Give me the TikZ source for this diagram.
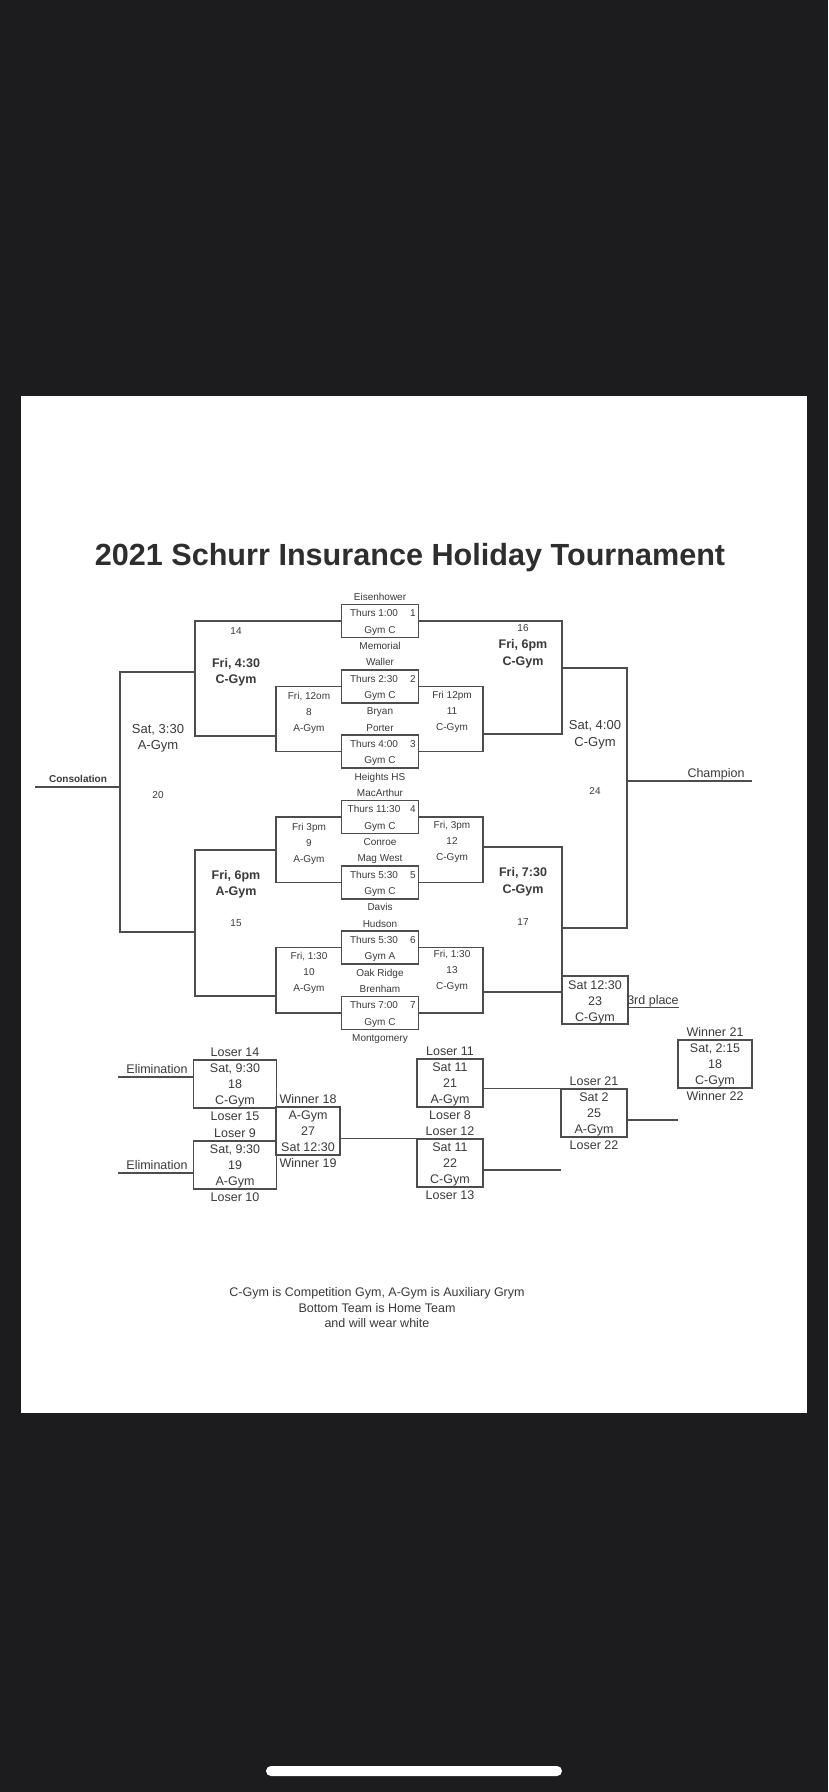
\documentclass[tikz,border=0pt]{standalone}
\usepackage{fontspec}
\setmainfont{Liberation Sans}
\usetikzlibrary{positioning, calc}

\definecolor{phonebg}{HTML}{1C1C1E}
\definecolor{ink}{HTML}{3A3A3A}
\definecolor{rule}{HTML}{4D4D4D}

\tikzset{
  sm/.style={font=\fontsize{10}{12}\selectfont, text=ink, inner sep=0pt, text height=7pt, text depth=0pt},
  md/.style={font=\fontsize{12.5}{14}\selectfont, text=ink, inner sep=0pt, text height=8.8pt, text depth=0pt},
  bd/.style={md, font=\fontsize{12.5}{14}\selectfont\bfseries},
  gbox/.style={draw=rule, line width=1.4pt, minimum width=77pt, minimum height=33pt, inner sep=0pt},
  wire/.style={draw=rule, line width=1.3pt},
}

\begin{document}
\begin{tikzpicture}[x=1pt, y=-1pt]
    \useasboundingbox (0,0) rectangle (828,1792);
    \fill[phonebg] (0,0) rectangle (828,1792);
    \fill[white] (20.6,396) rectangle (807,1413);
    \fill[white, rounded corners=5pt] (266,1766) rectangle (562,1776);

    \node[font=\fontsize{30.6}{34}\selectfont\bfseries, text=black!82, anchor=base] (title) at (410,565) {2021 Schurr Insurance Holiday Tournament};

    % first round, thursday games
    \foreach \n/\ta/\tm/\gy/\tb in {1/Eisenhower/Thurs 1:00/Gym C/Memorial, 2/Waller/Thurs 2:30/Gym C/Bryan,
        3/Porter/Thurs 4:00/Gym C/Heights HS, 4/MacArthur/Thurs 11:30/Gym C/Conroe, 5/Mag West/Thurs 5:30/Gym C/Davis,
        6/Hudson/Thurs 5:30/Gym A/Oak Ridge, 7/Brenham/Thurs 7:00/Gym C/Montgomery} {
        \pgfmathsetmacro\yy{597+65.33*(\n-1)}
        \node[sm] (ta\n) at (380,\yy) {\ta};
        \node[gbox] (b\n) at (380,\yy+24) {};
        \node[sm] (tm\n) at (374,\yy+16.33) {\tm};
        \node[sm, anchor=east] (nr\n) at (416,\yy+16.33) {\n};
        \node[sm] (gy\n) at (380,\yy+32.67) {\gy};
        \node[sm] (tb\n) at (380,\yy+49) {\tb};
    }

    \coordinate (r8) at (276,736);  \coordinate (r9) at (276,850);  \coordinate (r10) at (276,996);
    \coordinate (r14) at (195,672); \coordinate (r15) at (195,932); \coordinate (r20) at (120,787);
    \coordinate (r11) at (483,734); \coordinate (r12) at (483,847); \coordinate (r13) at (483,992);
    \coordinate (r16) at (562,668); \coordinate (r17) at (562,928); \coordinate (r24) at (627,781);
    \coordinate (cons) at (35,787); \coordinate (champ) at (752,781);

    \draw[wire] (b2.west) -| (r8) |- (b3.west);
    \draw[wire] (b4.west) -| (r9) |- (b5.west);
    \draw[wire] (b6.west) -| (r10) |- (b7.west);
    \draw[wire] (b1.west) -| (r14) |- (r8);
    \draw[wire] (r9) -| (r15) |- (r10);
    \draw[wire] (r14) -| (r20) |- (r15);
    \draw[wire] (r20) -- (cons);

    \draw[wire] (b2.east) -| (r11) |- (b3.east);
    \draw[wire] (b4.east) -| (r12) |- (b5.east);
    \draw[wire] (b6.east) -| (r13) |- (b7.east);
    \draw[wire] (b1.east) -| (r16) |- (r11);
    \draw[wire] (r12) -| (r17) |- (r13);
    \draw[wire] (r16) -| (r24) |- (r17);
    \draw[wire] (r24) -- (champ);

    % friday games
    \foreach \nm/\x/\y/\la/\lb/\lc in {m8/309/696/{Fri, 12om}/8/A-Gym, m9/309/827/Fri 3pm/9/A-Gym,
        m10/309/956/{Fri, 1:30}/10/A-Gym, m11/452/695/Fri 12pm/11/C-Gym,
        m12/452/825/{Fri, 3pm}/12/C-Gym, m13/452/954/{Fri, 1:30}/13/C-Gym} {
        \node[sm] (\nm-a) at (\x,\y) {\la};
        \node[sm] (\nm-b) at (\x,\y+16) {\lb};
        \node[sm] (\nm-c) at (\x,\y+32) {\lc};
    }

    \node[sm] (n14) at (236,631) {14};
    \node[bd] (m14-a) at (236,663) {Fri, 4:30};
    \node[bd] (m14-b) at (236,679) {C-Gym};
    \node[bd] (m15-a) at (236,875) {Fri, 6pm};
    \node[bd] (m15-b) at (236,891) {A-Gym};
    \node[sm] (n15) at (236,923) {15};
    \node[sm] (n16) at (523,628) {16};
    \node[bd] (m16-a) at (523,644) {Fri, 6pm};
    \node[bd] (m16-b) at (523,661) {C-Gym};
    \node[bd] (m17-a) at (523,872) {Fri, 7:30};
    \node[bd] (m17-b) at (523,889) {C-Gym};
    \node[sm] (n17) at (523,922) {17};

    \node[md, font=\fontsize{13}{15}\selectfont] (m20-a) at (158,729) {Sat, 3:30};
    \node[md, font=\fontsize{13}{15}\selectfont] (m20-b) at (158,745) {A-Gym};
    \node[sm] (n20) at (158,795) {20};
    \node[md, font=\fontsize{13}{15}\selectfont] (m24-a) at (595,725) {Sat, 4:00};
    \node[md, font=\fontsize{13}{15}\selectfont] (m24-b) at (595,742) {C-Gym};
    \node[sm] (n24) at (595,791) {24};

    \node[sm, font=\fontsize{10}{12}\selectfont\bfseries] (constxt) at (78,779) {Consolation};
    \node[md] (champtxt) at (716,773) {Champion};

    % third place game
    \node[gbox, minimum width=66pt, minimum height=48pt] (b23) at (595,1000) {};
    \node[md] (m23-a) at (595,985) {Sat 12:30};
    \node[md] (m23-b) at (595,1001) {23};
    \node[md] (m23-c) at (595,1017) {C-Gym};
    \node[md] (third) at (653,1000) {3rd place};
    \coordinate (thirdend) at (679,1007);
    \draw[wire, line width=1pt] (b23.east |- thirdend) -- (thirdend);

    % consolation boxes
    \foreach \nm/\x/\y/\w/\la/\lb/\lc/\ld/\le in {b18/235/1052/83/Loser 14/{Sat, 9:30}/18/C-Gym/Loser 15,
        b19/235/1133/83/Loser 9/{Sat, 9:30}/19/A-Gym/Loser 10,
        b27/308/1099/64/Winner 18/A-Gym/27/Sat 12:30/Winner 19,
        b21/450/1051/66/Loser 11/Sat 11/21/A-Gym/Loser 8,
        b22/450/1131/66/Loser 12/Sat 11/22/C-Gym/Loser 13,
        b25/594/1081/66/Loser 21/Sat 2/25/A-Gym/Loser 22,
        bfin/715/1032/74/Winner 21/{Sat, 2:15}/18/C-Gym/Winner 22} {
        \node[gbox, minimum width=\w pt, minimum height=48pt] (\nm) at (\x,\y+32) {};
        \node[md] (\nm-a) at (\x,\y) {\la};
        \node[md] (\nm-b) at (\x,\y+16) {\lb};
        \node[md] (\nm-c) at (\x,\y+32) {\lc};
        \node[md] (\nm-d) at (\x,\y+48) {\ld};
        \node[md] (\nm-e) at (\x,\y+64) {\le};
    }

    \coordinate (el1) at (118,1077);
    \coordinate (el2) at (118,1173);
    \draw[wire] (el1) -- (el1 -| b18.west);
    \draw[wire] (el2) -- (el2 -| b19.west);
    \node[md] (eltxt1) at (157,1069) {Elimination};
    \node[md] (eltxt2) at (157,1165) {Elimination};

    \draw[wire] (b27.east |- b22.north west) -- (b22.north west);
    \draw[wire] (b21.east |- b25.north west) -- (b25.north west);
    \coordinate (f22) at (561,1170);
    \coordinate (f25) at (678,1120);
    \draw[wire] (f22 -| b22.east) -- (f22);
    \draw[wire] (f25 -| b25.east) -- (f25);

    % notes
    \node[md] (note1) at (377,1292) {C-Gym is Competition Gym, A-Gym is Auxiliary Grym};
    \node[md] (note2) at (377,1308) {Bottom Team is Home Team};
    \node[md] (note3) at (377,1323) {and will wear white};
\end{tikzpicture}
\end{document}
